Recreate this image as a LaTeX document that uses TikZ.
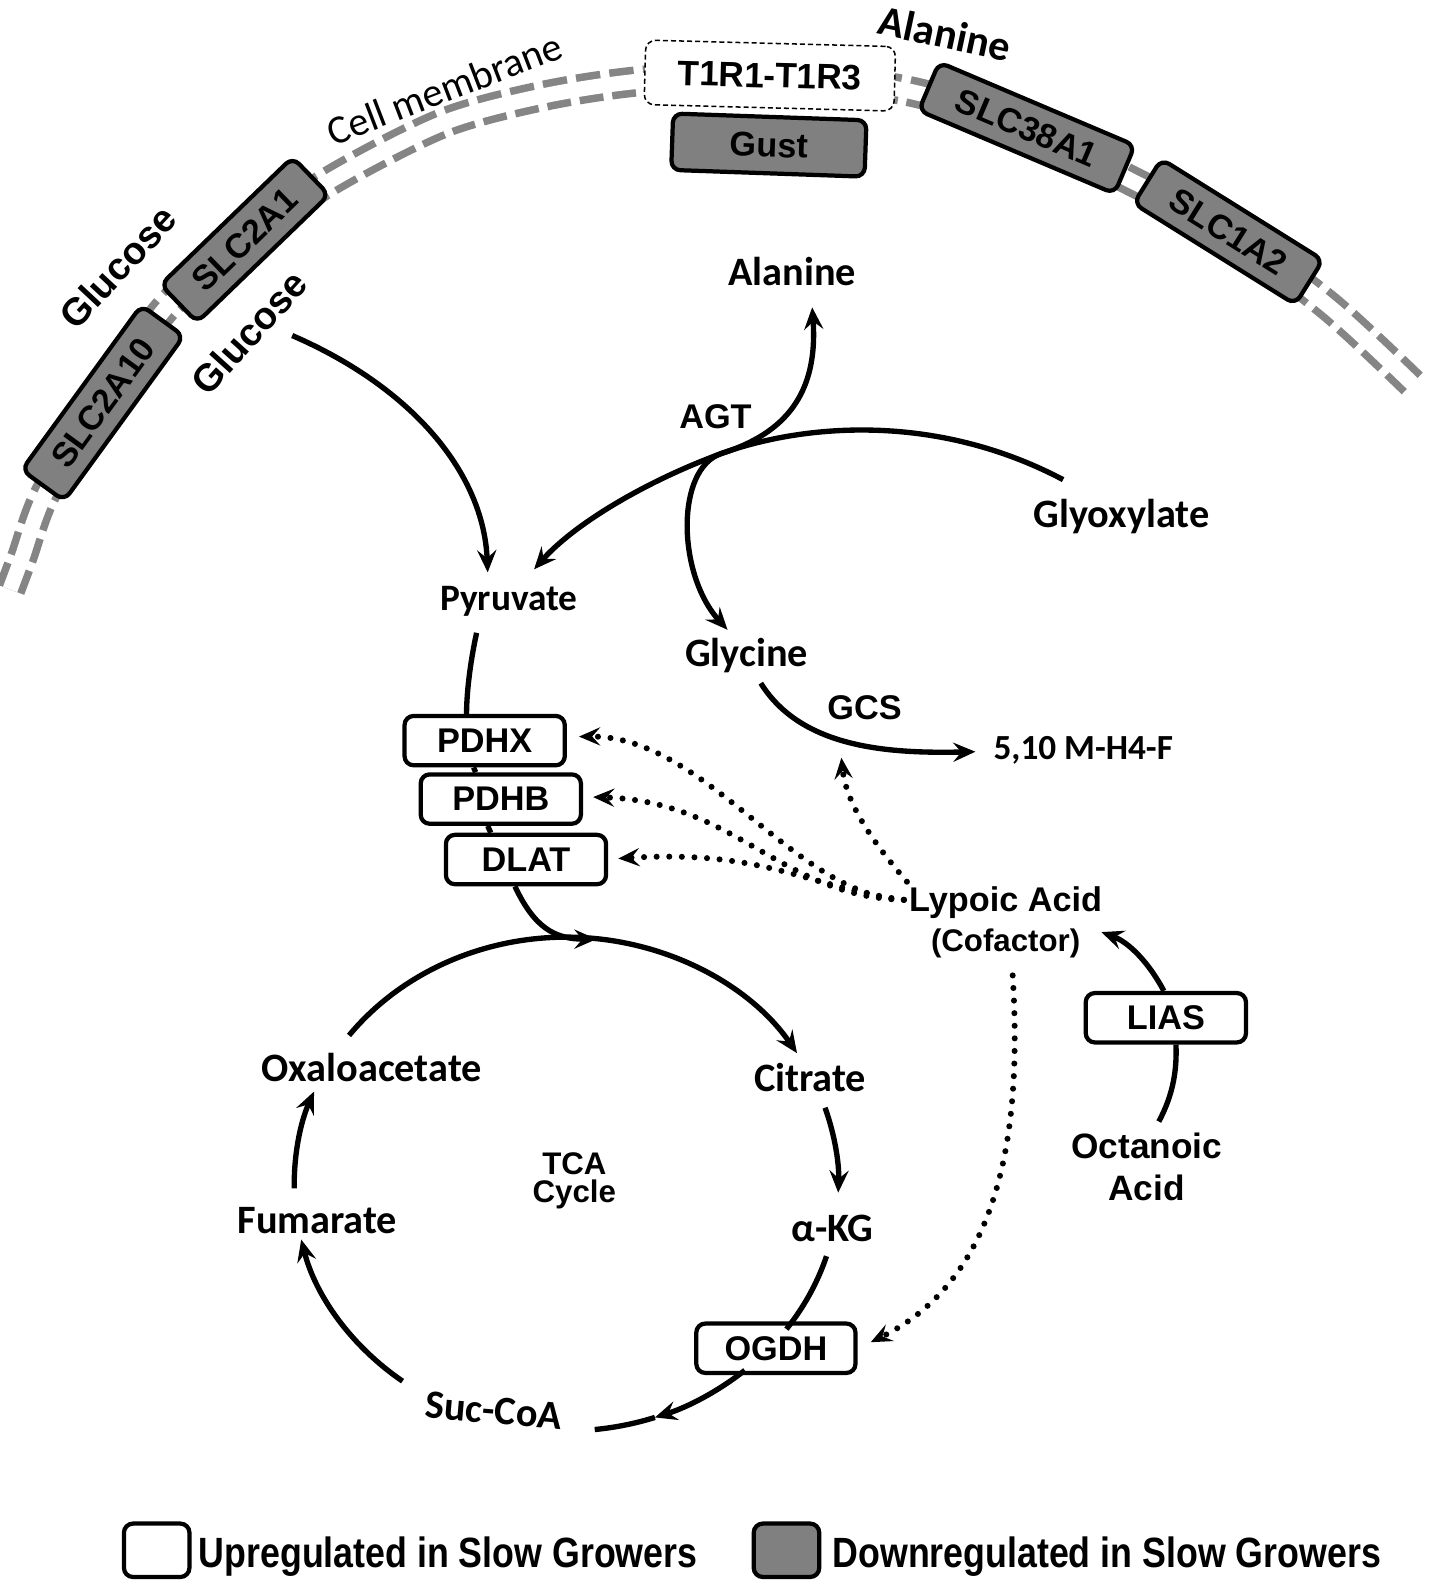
\documentclass[tikz,border=0pt]{standalone}
\usepackage{fontspec}
\usepackage{graphicx}
\setmainfont{Liberation Sans}
\newfontfamily\calib{Carlito}
\usetikzlibrary{arrows.meta,calc}
\definecolor{boxgray}{HTML}{808080}
\definecolor{memgray}{HTML}{858585}
\newcommand{\fA}[1]{\fontsize{#1}{#1}\selectfont\bfseries}
\newcommand{\fC}[1]{\calib\fontsize{#1}{#1}\selectfont\bfseries}
\begin{document}
\begin{tikzpicture}[x=1pt,y=-1pt,
  mbox/.style={draw=black, line width=4.2pt, fill=boxgray, rounded corners=9pt, minimum height=52pt, inner sep=0pt, font=\fA{34}},
  ebox/.style={draw=black, line width=4.2pt, fill=white, rounded corners=9pt, minimum width=159pt, minimum height=49pt, inner sep=0pt, font=\fA{34}},
  met/.style={font=\fC{40}, inner sep=1pt},
  lab/.style={font=\fA{34}, inner sep=1pt},
  conn/.style={line width=5.3pt},
  arr/.style={conn, -{Stealth[length=22pt,width=19pt,inset=8pt]}},
  dotarr/.style={line width=6pt, line cap=round, dash pattern=on 0pt off 12.5pt, -{Stealth[length=21pt,width=18pt,inset=8pt]}},
]
\fill[white] (0,0) rectangle (1420,1568);
\useasboundingbox (0,0) rectangle (1420,1568);

% ---------- membrane ----------
\draw[memgray, line width=30pt, dash pattern=on 24pt off 9pt] plot[smooth, tension=0.5] coordinates {(10,585) (22,553) (45,490) (100,400) (165,305) (243,238) (330,178) (440,122) (540,95) (640,80) (764,75) (900,90) (1019,127) (1120,178) (1219,230) (1320,305) (1404,383)};
\draw[white, line width=15pt] plot[smooth, tension=0.5] coordinates {(10,585) (22,553) (45,490) (100,400) (165,305) (243,238) (330,178) (440,122) (540,95) (640,80) (764,75) (900,90) (1019,127) (1120,178) (1219,230) (1320,305) (1404,383)};

\node[mbox, minimum width=202pt, rotate=54] (slc2a10) at (102,400) {SLC2A10};
\node[mbox, minimum width=182pt, rotate=44] (slc2a1) at (243,238) {SLC2A1};
\node[mbox, minimum width=211pt, rotate=-23] (slc38a1) at (1019,127) {SLC38A1};
\node[mbox, minimum width=189pt, rotate=-32] (slc1a2) at (1219,230) {SLC1A2};
\node[mbox, minimum width=192pt, minimum height=56pt, rotate=-2] (gust) at (763,144) {Gust};
\node[draw=black, line width=1.5pt, dash pattern=on 5pt off 3pt, fill=white, rounded corners=10pt, minimum width=248pt, minimum height=64pt, inner sep=0pt, rotate=-1.5, font=\fA{35}] (t1r) at (764,75) {T1R1-T1R3};

\node[font=\calib\fontsize{40}{40}\selectfont, rotate=21] (cellm) at (441,88) {Cell membrane};
\node[met, font=\fC{42}, rotate=-12] (ala1) at (938,33) {Alanine};
\node[font=\fA{38}, rotate=47] (glc1) at (117,265) {Glucose};
\node[font=\fA{38}, rotate=48] (glc2) at (247,330) {Glucose};

% ---------- inner labels ----------
\node[met] (ala2) at (786,269) {Alanine};
\node[lab] (agt) at (710,414) {AGT};
\node[met] (glyox) at (1113,513) {Glyoxylate};
\node[met, font=\fC{37}] (pyr) at (505,597) {Pyruvate};
\node[met] (gly) at (741,651) {Glycine};
\node[lab] (gcs) at (858,702) {GCS};
\node[met, font=\fC{35}] (mh4f) at (1075,745) {5,10 M-H4-F};
\node[lab] (lyp) at (998,896) {Lypoic Acid};
\node[lab, font=\fA{31}] (cof) at (998,936) {(Cofactor)};
\node[ebox] (lias) at (1157,1010) {LIAS};
\node[lab, font=\fA{35}] (oct) at (1138,1137) {Octanoic};
\node[lab, font=\fA{35}] (oacid) at (1138,1179) {Acid};
\node[ebox] (pdhx) at (481,735) {PDHX};
\node[ebox] (pdhb) at (497,793) {PDHB};
\node[ebox] (dlat) at (522,853) {DLAT};
\node[met] (oxa) at (369,1059) {Oxaloacetate};
\node[met] (cit) at (804,1069) {Citrate};
\node[lab, font=\fA{31}, align=center] (tca) at (570,1172) {TCA\\[-3pt]Cycle};
\node[met] (fum) at (315,1211) {Fumarate};
\node[met] (akg) at (826,1219) {α-KG};
\node[ebox, minimum width=158pt] (ogdh) at (770,1338) {OGDH};
\node[met, rotate=-5] (suc) at (490,1400) {Suc-CoA};

% ---------- coordinates ----------
\coordinate (g0) at (290,333);
\coordinate (p1) at (484,568);
\coordinate (gx0) at (1055,476);
\coordinate (agtx) at (716,450);
\coordinate (p2) at (530,565);
\coordinate (al0) at (806,305);
\coordinate (gy0) at (722,625);
\coordinate (pyr0) at (473,628);
\coordinate (gly0) at (755,678);
\coordinate (mh0) at (968,746);
\coordinate (oct0) at (1150,1113);
\coordinate (lyp0) at (1093,925);
\coordinate (ly0) at (897,893);
\coordinate (ly1) at (900,875);
\coordinate (gcsup) at (835,752);
\coordinate (ly2) at (1005,968);

% ---------- solid connectors ----------
\draw[arr] (g0) .. controls (410,385) and (480,470) .. (p1);
\draw[arr] (gx0) .. controls (930,410) and (800,420) .. (agtx) .. controls (640,478) and (570,520) .. (p2);
\draw[conn, {Stealth[length=22pt,width=19pt,inset=8pt]}-{Stealth[length=22pt,width=19pt,inset=8pt]}] (al0) .. controls (812,390) and (780,430) .. (agtx) .. controls (670,465) and (672,570) .. (gy0);
\draw[conn] (pyr0) .. controls (466,660) and (463,690) .. ($(pdhx.north)+(-18,0)$);
\draw[conn] ($(pdhx.south)+(-11,0)$) -- ($(pdhb.north)+(-25,0)$);
\draw[conn] ($(pdhb.south)+(-13,0)$) -- ($(dlat.north)+(-35,0)$);
\draw[arr] ($(dlat.south)+(-11,0)$) .. controls (530,920) and (550,932) .. (592,932);
\draw[arr] (gly0) .. controls (795,742) and (880,748) .. (mh0);
\draw[conn] (oct0) .. controls (1165,1085) and (1168,1060) .. ($(lias.south)+(10,0)$);
\draw[arr] ($(lias.north)+(-2,0)$) .. controls (1140,955) and (1120,935) .. (lyp0);

% ---------- TCA cycle ----------
\coordinate (t143) at ({562+270*cos(143)},{1175-245*sin(143)});
\coordinate (t18) at ({562+270*cos(18)},{1175-245*sin(18)});
\coordinate (tm17) at ({562+270*cos(-17)},{1175-245*sin(-17)});
\coordinate (tm49) at ({562+270*cos(-49)},{1175-245*sin(-49)});
\coordinate (tm71) at ({562+270*cos(-71)},{1175-245*sin(-71)});
\coordinate (t233) at ({562+270*cos(233)},{1175-245*sin(233)});
\coordinate (t181) at ({562+270*cos(181)},{1175-245*sin(181)});
\draw[arr] (t143) arc[start angle=143, end angle=32, x radius=270pt, y radius=245pt];
\draw[arr] (t18) arc[start angle=18, end angle=-2, x radius=270pt, y radius=245pt];
\draw[conn] (tm17) arc[start angle=-17, end angle=-36, x radius=270pt, y radius=245pt];
\draw[arr] (tm49) arc[start angle=-49, end angle=-71, x radius=270pt, y radius=245pt];
\draw[conn] (tm71) arc[start angle=-71, end angle=-84, x radius=270pt, y radius=245pt];
\draw[arr] (t233) arc[start angle=233, end angle=193, x radius=270pt, y radius=245pt];
\draw[arr] (t181) arc[start angle=181, end angle=158, x radius=270pt, y radius=245pt];

% ---------- dotted connectors ----------
\draw[dotarr] (ly0) .. controls (790,890) and (700,730) .. ($(pdhx.east)+(12,-4)$);
\draw[dotarr] (ly0) .. controls (775,890) and (730,795) .. ($(pdhb.east)+(10,-2)$);
\draw[dotarr] (ly0) .. controls (800,880) and (760,843) .. ($(dlat.east)+(10,-1)$);
\draw[dotarr] (ly1) .. controls (870,840) and (840,800) .. (gcsup);
\draw[dotarr] (ly2) .. controls (1015,1130) and (990,1270) .. ($(ogdh.east)+(13,-6)$);

% ---------- legend ----------
\node[draw=black, line width=4.2pt, rounded corners=9pt, fill=white, minimum width=65pt, minimum height=53pt, inner sep=0pt] (lgw) at (155.5,1538.5) {};
\node[anchor=west, font=\fA{42}, inner sep=0pt] (lgwt) at (197,1545) {\scalebox{0.845}[1]{Upregulated in Slow Growers}};
\node[draw=black, line width=4.2pt, rounded corners=9pt, fill=boxgray, minimum width=65pt, minimum height=53pt, inner sep=0pt] (lgg) at (780.5,1538.5) {};
\node[anchor=west, font=\fA{42}, inner sep=0pt] (lggt) at (826,1545) {\scalebox{0.845}[1]{Downregulated in Slow Growers}};
\end{tikzpicture}
\end{document}
